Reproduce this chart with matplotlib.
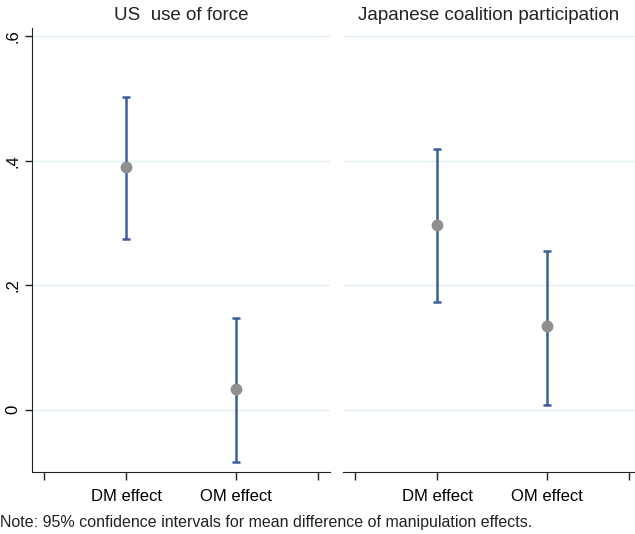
import matplotlib.pyplot as plt

plt.rcParams['font.family'] = ['Liberation Sans', 'DejaVu Sans']

labels = ['DM effect', 'OM effect']
us_est = [0.389, 0.034]
us_lo = [0.274, -0.084]
us_hi = [0.502, 0.148]
jp_est = [0.297, 0.134]
jp_lo = [0.173, 0.008]
jp_hi = [0.418, 0.255]
titles = ['US  use of force', 'Japanese coalition participation']
note = 'Note: 95% confidence intervals for mean difference of manipulation effects.'

W, H = 635, 534
fig = plt.figure(figsize=(W / 100, H / 100), dpi=100)
ax1 = fig.add_axes([32 / W, (H - 472) / H, (330 - 32) / W, (472 - 28) / H])
ax2 = fig.add_axes([343 / W, (H - 472) / H, (W - 343) / W, (472 - 28) / H])

bar_col = '#3b5f98'
pt_col = '#8f8f8f'
grid_col = '#e4f0f2'

for ax, est, lo, hi, title in [(ax1, us_est, us_lo, us_hi, titles[0]),
                               (ax2, jp_est, jp_lo, jp_hi, titles[1])]:
    x = [1, 2]
    for yv in [0, 0.2, 0.4, 0.6]:
        ax.axhline(yv, color=grid_col, lw=1.0, zorder=0)
    ax.vlines(x, lo, hi, color=bar_col, lw=1.8, zorder=2)
    ax.hlines(lo + hi, [v - 0.04 for v in x] * 2, [v + 0.04 for v in x] * 2,
              color=bar_col, lw=1.8, zorder=2)
    ax.plot(x, est, 'o', color=pt_col, ms=7.5, zorder=3)
    ax.set_xlim(0.145, 2.855)
    ax.set_ylim(-0.1, 0.613)
    ax.set_xticks([0.255, 1, 2, 2.745])
    ax.set_xticklabels(['', labels[0], labels[1], ''], fontsize=12)
    ax.tick_params(axis='x', length=6, width=1.0, color='#222222', pad=6)
    ax.set_title(title, fontsize=13.5, pad=6, color='#222222')
    for s in ['top', 'right']:
        ax.spines[s].set_visible(False)
    ax.spines['bottom'].set_color('#222222')

ax1.set_yticks([0, 0.2, 0.4, 0.6])
ax1.set_yticklabels(['0', '.2', '.4', '.6'], rotation=90, va='center', fontsize=12)
ax1.tick_params(axis='y', length=5, width=1.0, color='#222222')
ax1.spines['left'].set_color('#222222')

ax2.spines['left'].set_visible(False)
ax2.set_yticks([])
ax2.set_xlim(0.145, 2.855 + (W - 343 - 298) / 110)

fig.text(0, (H - 522) / H, note, fontsize=11.5, va='center', ha='left', color='#222222')

fig.savefig('out.png', dpi=100)
